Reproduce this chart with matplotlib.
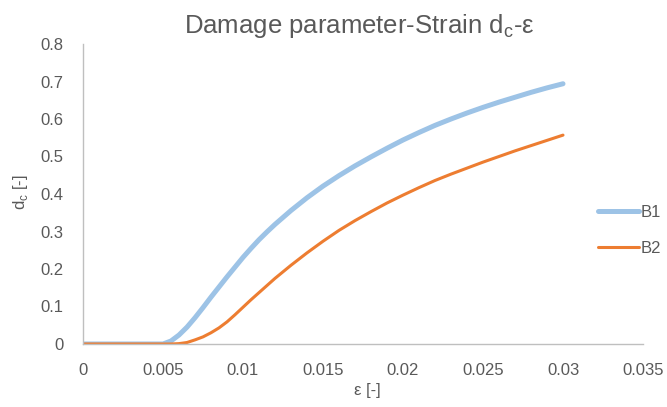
import matplotlib
matplotlib.use("Agg")
import matplotlib.pyplot as plt

plt.rcParams['font.family'] = ['Liberation Sans', 'DejaVu Sans']

# strain values and damage parameter for the two specimens
strain = [0, 0.001, 0.002, 0.003, 0.004, 0.005, 0.0055, 0.006, 0.0065, 0.007,
          0.0075, 0.008, 0.0085, 0.009, 0.0095, 0.010, 0.0105, 0.011, 0.0115,
          0.012, 0.013, 0.014, 0.015, 0.016, 0.017, 0.018, 0.019, 0.020,
          0.021, 0.022, 0.023, 0.024, 0.025, 0.026, 0.027, 0.028, 0.029, 0.030]
d_b1 = [0, 0, 0, 0, 0, 0, 0.008, 0.024, 0.045, 0.070,
        0.097, 0.125, 0.152, 0.179, 0.205, 0.231, 0.255, 0.278, 0.299,
        0.319, 0.356, 0.390, 0.421, 0.449, 0.475, 0.499, 0.522, 0.544,
        0.564, 0.583, 0.600, 0.616, 0.631, 0.645, 0.658, 0.671, 0.683, 0.694]
d_b2 = [0, 0, 0, 0, 0, 0, 0, 0.001, 0.004, 0.011,
        0.019, 0.030, 0.043, 0.059, 0.078, 0.098, 0.118, 0.137, 0.156,
        0.175, 0.210, 0.243, 0.274, 0.303, 0.329, 0.353, 0.376, 0.397,
        0.417, 0.436, 0.453, 0.469, 0.485, 0.500, 0.515, 0.529, 0.543, 0.557]

xticks = [0, 0.005, 0.01, 0.015, 0.02, 0.025, 0.03, 0.035]
xtick_labels = ['0', '0.005', '0.01', '0.015', '0.02', '0.025', '0.03', '0.035']
yticks = [0, 0.1, 0.2, 0.3, 0.4, 0.5, 0.6, 0.7, 0.8]
ytick_labels = ['0', '0.1', '0.2', '0.3', '0.4', '0.5', '0.6', '0.7', '0.8']

text_gray = '#595959'
axis_gray = '#BFBFBF'

fig = plt.figure(figsize=(6.67, 4.07), dpi=100)
ax = fig.add_axes([83 / 667, 1 - 344 / 407, 560 / 667, 300 / 407])

ax.plot(strain, d_b1, color='#9DC3E6', lw=3.6, label='B1', solid_capstyle='round')
ax.plot(strain, d_b2, color='#ED7D31', lw=2.2, label='B2', solid_capstyle='round')

ax.set_xlim(0, 0.035)
ax.set_ylim(0, 0.8)
ax.set_xticks(xticks)
ax.set_xticklabels(xtick_labels)
ax.set_yticks(yticks)
ax.set_yticklabels(ytick_labels)
ax.tick_params(length=0, labelsize=12, colors=text_gray)
ax.tick_params(axis='x', pad=14)
ax.tick_params(axis='y', pad=14)

for side in ['top', 'right']:
    ax.spines[side].set_visible(False)
for side in ['left', 'bottom']:
    ax.spines[side].set_color(axis_gray)
    ax.spines[side].set_linewidth(1.0)

fig.text(367 / 667, 1 - 391 / 407, 'ε [-]', fontsize=12, color=text_gray,
         ha='center', va='center')
fig.text(20 / 667, 1 - 192 / 407, r'd$_\mathregular{c}$ [-]', fontsize=12,
         color=text_gray, rotation=90, ha='center', va='center')

fig.text(359 / 667, 1 - 33 / 407, r'Damage parameter-Strain d$_\mathregular{c}$-ε',
         fontsize=18.5, color=text_gray, ha='center', va='baseline')

fig.legend(loc='upper left', bbox_to_anchor=(598 / 667, 1 - 205 / 407),
           frameon=False, fontsize=12, labelcolor=text_gray,
           handlelength=2.45, handletextpad=0.1, labelspacing=1.25,
           borderpad=0, borderaxespad=0)

fig.savefig('out.png', dpi=100)
